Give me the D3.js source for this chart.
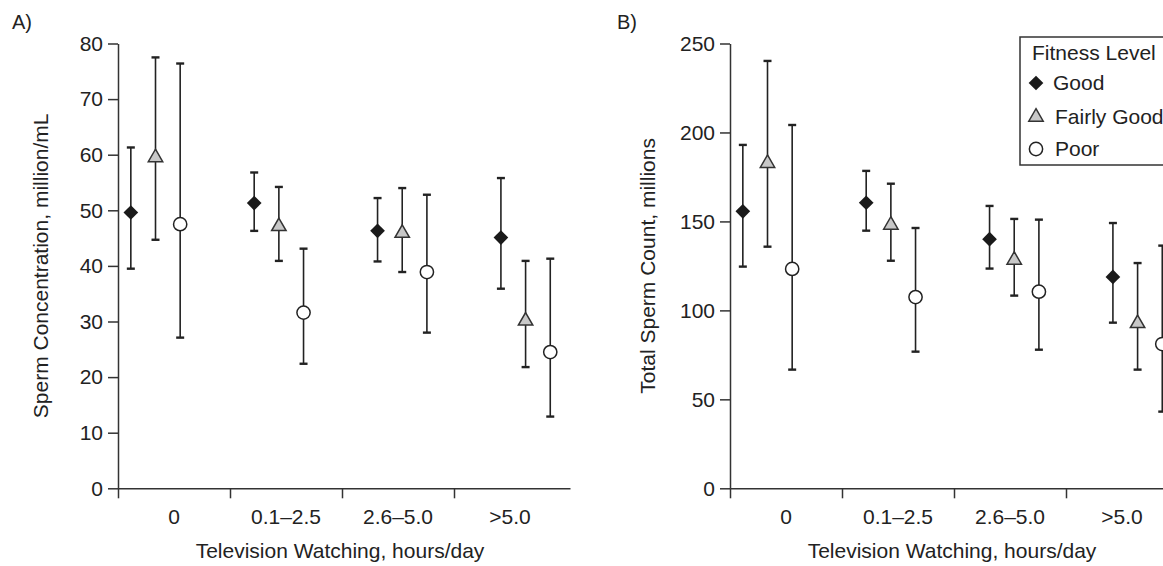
<!DOCTYPE html>
<html>
<head>
<meta charset="utf-8">
<script src="https://cdn.jsdelivr.net/npm/d3@7"></script>
<style>
  body { margin: 0; background: #fff; }
  svg { display: block; font-family: "Liberation Sans", Arial, sans-serif; }
  .axis path, .axis line { stroke: #333; stroke-width: 1.5; }
  .axis text { font-size: 21px; fill: #222; }
</style>
</head>
<body>
<div id="chart"></div>
<script>
// categories and fitness levels
var categories = ["0", "0.1–2.5", "2.6–5.0", ">5.0"];
var levels = ["Good", "Fairly Good", "Poor"];

// A) sperm concentration, rows are [mean, lower, upper] per category
var concGood   = [[49.6, 39.5, 61.3], [51.3, 46.3, 56.8], [46.3, 40.8, 52.2], [45.1, 35.9, 55.8]];
var concFairly = [[59.5, 44.7, 77.5], [47.1, 40.9, 54.2], [45.9, 38.9, 54.0], [30.1, 21.8, 40.9]];
var concPoor   = [[47.5, 27.1, 76.4], [31.6, 22.4, 43.1], [38.9, 28.0, 52.8], [24.5, 12.9, 41.3]];

// B) total sperm count
var countGood   = [[155.7, 124.6, 193.0], [160.5, 144.8, 178.4], [140.0, 123.5, 158.7], [118.8, 93.1, 149.1]];
var countFairly = [[182.7, 135.8, 240.2], [148.0, 127.9, 171.2], [128.3, 108.3, 151.4], [92.7, 66.7, 126.6]];
var countPoor   = [[123.3, 66.7, 204.2], [107.5, 76.8, 146.3], [110.5, 77.9, 151.0], [81.1, 43.1, 136.4]];

var concTicks = [0, 10, 20, 30, 40, 50, 60, 70, 80];
var countTicks = [0, 50, 100, 150, 200, 250];

var svgWidth = 1163;
var svgHeight = 566;
var plotTop = 43.5, plotBottom = 488.3;
var axisLen = 452;

var svg = d3.select("#chart")
  .append("svg")
  .attr("width", svgWidth)
  .attr("height", svgHeight);

function drawPanel(opts) {
  var g = svg.append("g")
    .attr("transform", `translate(${opts.left}, 0)`);

  var y = d3.scaleLinear()
    .domain([0, opts.max])
    .range([plotBottom, plotTop]);

  // category boundaries (1 unit = one category)
  var xCat = d3.scaleLinear()
    .domain([0, axisLen / 112])
    .range([0, axisLen]);

  // slots for individual points: 5 per category group, 3 used
  var xSlot = d3.scaleLinear()
    .domain([-0.52, 17.8])
    .range([0, axisLen]);

  g.append("g")
    .attr("class", "axis")
    .call(d3.axisLeft(y).tickValues(opts.ticks).tickSize(10).tickSizeOuter(0).tickPadding(5));

  g.append("g")
    .attr("class", "axis")
    .attr("transform", `translate(0, ${plotBottom})`)
    .call(d3.axisBottom(xCat).tickValues([0, 1, 2, 3]).tickFormat("").tickSize(10).tickSizeOuter(0));

  g.selectAll(".catLabel")
    .data(categories)
    .enter()
    .append("text")
    .attr("class", "catLabel")
    .attr("x", (d, i) => xCat(i + 0.5))
    .attr("y", plotBottom + 36)
    .attr("text-anchor", "middle")
    .style("font-size", "21px")
    .style("fill", "#222")
    .text(d => d);

  // axis titles
  g.append("text")
    .attr("x", axisLen / 2 - 4)
    .attr("y", plotBottom + 70)
    .attr("text-anchor", "middle")
    .style("font-size", "21px")
    .style("fill", "#222")
    .text("Television Watching, hours/day");

  g.append("text")
    .attr("transform", `translate(${opts.titleX}, ${(plotTop + plotBottom) / 2}) rotate(-90)`)
    .attr("text-anchor", "middle")
    .attr("dy", "0.35em")
    .style("font-size", "21px")
    .style("fill", "#222")
    .text(opts.title);

  svg.append("text")
    .attr("x", opts.left + opts.tagX)
    .attr("y", 29)
    .style("font-size", "20px")
    .style("fill", "#222")
    .text(opts.tag);

  opts.series.forEach(function(rows, s) {
    var pts = rows.map((r, i) => ({ cat: i, mean: r[0], lo: r[1], hi: r[2], cx: xSlot(i * 5 + s) }));
    var bars = g.append("g");

    bars.selectAll(".stem")
      .data(pts)
      .enter()
      .append("line")
      .attr("x1", d => d.cx).attr("x2", d => d.cx)
      .attr("y1", d => y(d.lo)).attr("y2", d => y(d.hi))
      .style("stroke", "#222")
      .style("stroke-width", 1.6);

    bars.selectAll(".cap")
      .data(pts.flatMap(d => [{ cx: d.cx, v: d.lo }, { cx: d.cx, v: d.hi }]))
      .enter()
      .append("line")
      .attr("x1", d => d.cx - 4).attr("x2", d => d.cx + 4)
      .attr("y1", d => y(d.v)).attr("y2", d => y(d.v))
      .style("stroke", "#222")
      .style("stroke-width", 2.4);

    bars.selectAll(".mark")
      .data(pts)
      .enter()
      .append("path")
      .attr("transform", d => `translate(${d.cx}, ${y(d.mean)})` + (s === 0 ? " rotate(45)" : ""))
      .call(styleMarker, s);
  });

  return g;
}

function styleMarker(sel, s) {
  if (s === 0) {
    sel.attr("d", d3.symbol(d3.symbolSquare, 108)())
      .style("fill", "#1a1a1a")
      .style("stroke", "none");
  } else if (s === 1) {
    sel.attr("d", d3.symbol(d3.symbolTriangle, 90)())
      .style("fill", "#c8c8c8")
      .style("stroke", "#333")
      .style("stroke-width", 1.5);
  } else {
    sel.attr("d", d3.symbol(d3.symbolCircle, 138)())
      .style("fill", "#fff")
      .style("stroke", "#222")
      .style("stroke-width", 1.5);
  }
}

drawPanel({
  left: 118, max: 80, ticks: concTicks,
  title: "Sperm Concentration, million/mL", titleX: -77,
  tag: "A)", tagX: -106,
  series: [concGood, concFairly, concPoor]
});

drawPanel({
  left: 730, max: 250, ticks: countTicks,
  title: "Total Sperm Count, millions", titleX: -82,
  tag: "B)", tagX: -113,
  series: [countGood, countFairly, countPoor]
});

// legend
var legend = svg.append("g")
  .attr("transform", "translate(1020, 37)");

legend.append("rect")
  .attr("width", 170)
  .attr("height", 128)
  .style("fill", "#fff")
  .style("stroke", "#333")
  .style("stroke-width", 1.5);

legend.append("text")
  .attr("x", 12)
  .attr("y", 23)
  .style("font-size", "21px")
  .style("fill", "#222")
  .text("Fitness Level");

var items = legend.selectAll(".item")
  .data(levels)
  .enter()
  .append("g")
  .attr("transform", (d, i) => `translate(0, ${[46, 80, 112][i]})`);

items.append("path")
  .attr("transform", (d, i) => `translate(16, 0)` + (i === 0 ? " rotate(45)" : ""))
  .each(function(d, i) { d3.select(this).call(styleMarker, i); });

items.append("text")
  .attr("x", (d, i) => i === 0 ? 33 : 35)
  .attr("y", 0)
  .attr("dy", "0.35em")
  .style("font-size", "21px")
  .style("fill", "#222")
  .text(d => d);
</script>
</body>
</html>
